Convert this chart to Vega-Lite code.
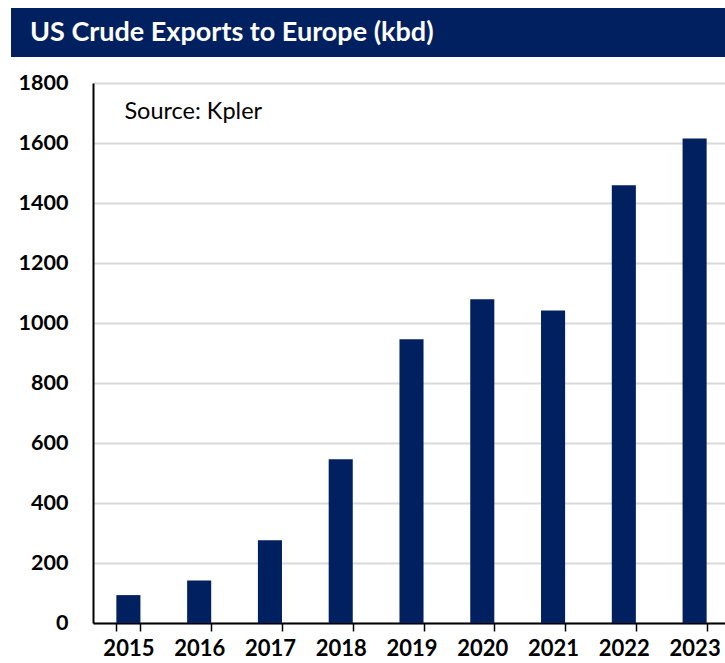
{
  "$schema": "https://vega.github.io/schema/vega-lite/v6.json",
  "padding": {"left": 11, "top": 8, "right": 0, "bottom": 0},
  "background": "white",
  "spacing": 15,
  "config": {
    "font": "Lato",
    "view": {"stroke": null}
  },
  "datasets": {
    "exports": [
      {"year": "2015", "kbd": 93},
      {"year": "2016", "kbd": 142},
      {"year": "2017", "kbd": 276},
      {"year": "2018", "kbd": 546},
      {"year": "2019", "kbd": 946},
      {"year": "2020", "kbd": 1079},
      {"year": "2021", "kbd": 1042},
      {"year": "2022", "kbd": 1459},
      {"year": "2023", "kbd": 1615}
    ]
  },
  "vconcat": [
    {
      "width": 632,
      "height": 49,
      "data": {"values": [{"t": "US Crude Exports to Europe (kbd)", "start": 0, "end": 1}]},
      "layer": [
        {
          "mark": {"type": "rect", "color": "#002060"},
          "encoding": {
            "x": {"field": "start", "type": "quantitative", "scale": {"domain": [0, 1], "range": [-82, 632]}, "axis": null},
            "x2": {"field": "end"},
            "y": {"value": 0},
            "y2": {"value": 49}
          }
        },
        {
          "mark": {"type": "text", "align": "left", "baseline": "middle", "font": "Lato", "fontWeight": "bold", "fontSize": 27, "color": "white", "dx": 19},
          "encoding": {
            "text": {"field": "t"},
            "x": {"field": "start", "type": "quantitative"},
            "y": {"value": 25}
          }
        }
      ]
    },
    {
      "width": 637,
      "height": 540,
      "data": {"name": "exports"},
      "layer": [
        {
          "mark": {"type": "bar", "color": "#002060"},
          "encoding": {
            "x": {
              "field": "year", "type": "nominal", "sort": null,
              "scale": {"paddingInner": 0.66, "paddingOuter": 0.33},
              "axis": {
                "title": null, "labelAngle": 0, "labelFont": "Lato", "labelFontWeight": "bold",
                "labelFontSize": 22, "labelColor": "black", "labelPadding": 7,
                "domainColor": "black", "domainWidth": 2, "tickColor": "black", "tickWidth": 1.5,
                "tickSize": 8, "tickBand": "extent", "grid": false
              }
            },
            "y": {
              "field": "kbd", "type": "quantitative",
              "scale": {"domain": [0, 1800], "nice": false},
              "axis": {
                "title": null, "values": [0, 200, 400, 600, 800, 1000, 1200, 1400, 1600, 1800],
                "format": "d",
                "labelFont": "Lato", "labelFontWeight": "bold", "labelFontSize": 21.5,
                "labelColor": "black", "labelPadding": 25, "ticks": false,
                "domainColor": "black", "domainWidth": 2,
                "gridColor": "#d9d9d9", "gridWidth": 2,
                "minExtent": 82, "maxExtent": 82
              }
            }
          }
        },
        {
          "data": {"values": [{"label": "Source: Kpler", "year": "2015", "kbd": 1702}]},
          "mark": {"type": "text", "align": "left", "baseline": "middle", "font": "Lato", "fontSize": 23.5, "color": "black", "dx": -4},
          "encoding": {
            "x": {"field": "year", "type": "nominal"},
            "y": {"field": "kbd", "type": "quantitative"},
            "text": {"field": "label"}
          }
        }
      ]
    }
  ]
}
